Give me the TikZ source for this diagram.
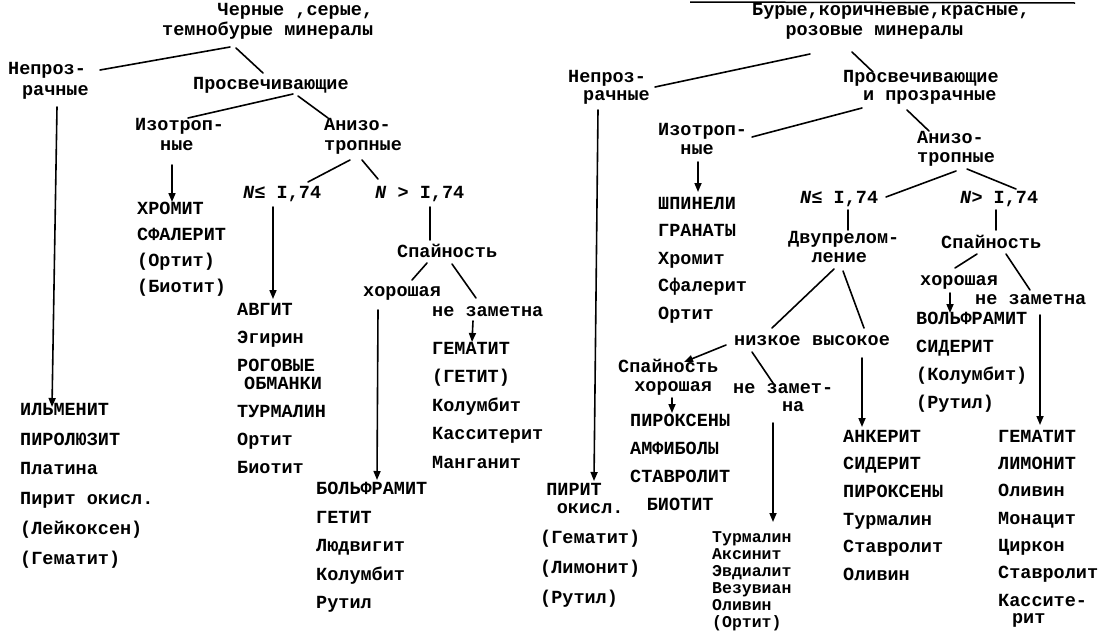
\documentclass[tikz,border=0pt]{standalone}
\usepackage{fontspec}
\setmainfont{Liberation Mono}
\usetikzlibrary{arrows.meta,calc}
\newcommand\fs[1]{\fontsize{18.5}{#1}\selectfont\bfseries\lineskiplimit=-100pt\relax}
\newcommand\fss[1]{\fontsize{16.5}{#1}\selectfont\bfseries\lineskiplimit=-100pt\relax}
\newcommand\ind[1]{\hspace*{#1\dimexpr0.6em\relax}}
\tikzset{
 lbl/.style={anchor=north west, inner sep=0pt, align=left, font=\fs{20}, execute at begin node={\rule{0pt}{16pt}}},
 lst/.style={lbl, font=\fs{#1}},
 conn/.style={line width=1.6pt, line cap=round},
 arr/.style={conn, -{Triangle[length=9pt,width=7pt]}},
}
\begin{document}
\begin{tikzpicture}[x=1pt,y=-1pt]
\fill[white] (0,0) rectangle (1100,635);
\useasboundingbox (0,0) rectangle (1100,635);
% ---------- left tree ----------
\node[lbl] (rootL) at (162,3) {\ind{5}Черные ,серые,\\темнобурые минералы};
\node[lbl,font=\fs{21}] (nL) at (8,62) {Непроз-\\\ind{1.25}рачные};
\node[lbl] (prL) at (193,73) {Просвечивающие};
\node[lbl] (izL) at (135,118) {Изотроп-\\\ind{2.25}ные};
\node[lbl] (anL) at (324,118) {Анизо-\\тропные};
\node[lbl] (leL) at (243,182) {\textit{N}≤ I,74};
\node[lbl] (gtL) at (375,182) {\textit{N} > I,74};
\node[lst=26] (hromL) at (137,202) {ХРОМИТ\\СФАЛЕРИТ\\(Ортит)\\(Биотит)};
\node[lst=28] (avgL) at (237,303) {АВГИТ\\Эгирин\\РОГОВЫЕ\\[-10pt]\hspace*{7pt}ОБМАНКИ\\ТУРМАЛИН\\Ортит\\Биотит};
\node[lbl] (spL) at (397,241) {Спайность};
\node[lbl] (hoL) at (363,280) {хорошая};
\node[lbl] (nzL) at (432,300) {не заметна};
\node[lst=28.5] (gemL) at (432,342) {ГЕМАТИТ\\(ГЕТИТ)\\Колумбит\\Касситерит\\Манганит};
\node[lst=28.5] (volL) at (316,482) {БОЛЬФРАМИТ\\ГЕТИТ\\Людвигит\\Колумбит\\Рутил};
\node[lst=29.8] (ilmL) at (20,403) {ИЛЬМЕНИТ\\ПИРОЛЮЗИТ\\Платина\\Пирит окисл.\\(Лейкоксен)\\(Гематит)};
% ---------- right tree ----------
\node[lbl] (rootR) at (752,3) {Бурые,коричневые,красные,\\\ind{3}розовые минералы};
\node[lbl,font=\fs{18}] (nR) at (568,70) {Непроз-\\\ind{1.35}рачные};
\node[lbl,font=\fs{18}] (prR) at (843,70) {Просвечивающие\\\ind{1.8}и прозрачные};
\node[lbl,font=\fs{19}] (izR) at (658,123) {Изотроп-\\\ind{2}ные};
\node[lbl,font=\fs{19}] (anR) at (917,131) {Анизо-\\тропные};
\node[lbl] (leR) at (800,187) {\textit{N}≤ I,74};
\node[lbl] (gtR) at (960,187) {\textit{N}> I,74};
\node[lst=27.5] (shpR) at (658,197) {ШПИНЕЛИ\\ГРАНАТЫ\\Хромит\\Сфалерит\\Ортит};
\node[lbl,font=\fs{19}] (dvR) at (788,231) {Двупрелом-\\\ind{2.1}ление};
\node[lbl] (spR) at (941,232) {Спайность};
\node[lbl] (hoR) at (920,269) {хорошая};
\node[lbl] (nzR) at (975,288) {не заметна};
\node[lst=28] (volR) at (916,312) {ВОЛЬФРАМИТ\\СИДЕРИТ\\(Колумбит)\\(Рутил)};
\node[lbl] (nizR) at (734,329) {низкое};
\node[lbl] (vysR) at (812,329) {высокое};
\node[lbl,font=\fs{19}] (spH) at (618,359) {Спайность\\\ind{1.45}хорошая};
\node[lbl,font=\fs{18.5}] (nzH) at (733,383) {не замет-\\\ind{4.4}на};
\node[lst=28] (pirR) at (630,414) {ПИРОКСЕНЫ\\АМФИБОЛЫ\\СТАВРОЛИТ\\\ind{1.5}БИОТИТ};
\node[lst=30] (piritR) at (540,483) {\ind{0.55}ПИРИТ\\[-12pt]\ind{1.5}окисл.\\(Гематит)\\(Лимонит)\\(Рутил)};
\node[lbl,font=\fss{17}] (turR) at (712,531) {Турмалин\\Аксинит\\Эвдиалит\\Везувиан\\Оливин\\(Ортит)};
\node[lst=27.6] (ankR) at (843,430) {АНКЕРИТ\\СИДЕРИТ\\ПИРОКСЕНЫ\\Турмалин\\Ставролит\\Оливин};
\node[lst=27.3] (gemR) at (998,430) {ГЕМАТИТ\\ЛИМОНИТ\\Оливин\\Монацит\\Циркон\\Ставролит\\Кассите-\\[-10pt]\ind{1.25}рит};
% top rule (cut-off line of the page above)
\draw[line width=1.5pt] (690,2) -- (1075,3);
% ---------- left connectors ----------
\draw[conn] ($(rootL.north west)+(68,44)$) -- ($(nL.north west)+(92,8)$);
\draw[conn] ($(rootL.north west)+(74,45)$) -- ($(prL.north west)+(70,0)$);
\draw[conn] ($(prL.north west)+(100,21)$) -- ($(izL.north west)+(53,0)$);
\draw[conn] ($(prL.north west)+(105,23)$) -- ($(anL.north west)+(4,0)$);
\draw[conn] ($(anL.north west)+(26,42)$) -- ($(leL.north west)+(65,0)$);
\draw[conn] ($(anL.north west)+(38,42)$) -- ($(gtL.north west)+(3,-3)$);
\draw[arr] ($(nL.north west)+(49,45)$) -- ($(ilmL.north west)+(32,4)$);
\draw[arr] ($(izL.north west)+(37,47)$) -- ($(hromL.north west)+(35,0)$);
\draw[arr] ($(leL.north west)+(30,25)$) -- ($(avgL.north west)+(36,-4)$);
\draw[conn] ($(gtL.north west)+(55,25)$) -- ($(spL.north west)+(33,-1)$);
\draw[conn] ($(spL.north west)+(30,22)$) -- ($(hoL.north west)+(49,0)$);
\draw[conn] ($(spL.north west)+(55,23)$) -- ($(nzL.north west)+(44,-2)$);
\draw[arr] ($(hoL.north west)+(15,30)$) -- ($(volL.north west)+(61,-2)$);
\draw[arr] ($(nzL.north west)+(41,21)$) -- ($(gemL.north west)+(40,0)$);
% ---------- right connectors ----------
\draw[conn] ($(rootR.north west)+(58,51)$) -- ($(nR.north west)+(87,17)$);
\draw[conn] ($(rootR.north west)+(100,49)$) -- ($(prR.north west)+(30,2)$);
\draw[conn] ($(prR.north west)+(19,38)$) -- ($(izR.north west)+(94,14)$);
\draw[conn] ($(prR.north west)+(64,40)$) -- ($(anR.north west)+(12,0)$);
\draw[conn] ($(anR.north west)+(39,40)$) -- ($(leR.north west)+(86,10)$);
\draw[conn] ($(anR.north west)+(50,38)$) -- ($(gtR.north west)+(56,2)$);
\draw[conn] ($(leR.north west)+(48,23)$) -- ($(dvR.north west)+(60,-1)$);
\draw[conn] ($(gtR.north west)+(36,23)$) -- ($(spR.north west)+(55,-2)$);
\draw[conn] ($(spR.north west)+(36,22)$) -- ($(hoR.north west)+(35,-1)$);
\draw[conn] ($(spR.north west)+(65,22)$) -- ($(nzR.north west)+(55,2)$);
\draw[arr] ($(hoR.north west)+(30,24)$) -- ($(volR.north west)+(34,1)$);
\draw[arr] ($(nzR.north west)+(65,27)$) -- ($(gemR.north west)+(42,-5)$);
\draw[conn] ($(dvR.north west)+(46,38)$) -- ($(nizR.north west)+(38,-1)$);
\draw[conn] ($(dvR.north west)+(55,40)$) -- ($(vysR.north west)+(52,-1)$);
\draw[arr] ($(nizR.north west)+(-8,16)$) -- ($(spH.north west)+(66,3)$);
\draw[conn] ($(nizR.north west)+(18,23)$) -- ($(nzH.north west)+(42,3)$);
\draw[arr] ($(spH.north west)+(54,39)$) -- ($(pirR.north west)+(42,-1)$);
\draw[arr] ($(nzH.north west)+(40,40)$) -- ($(turR.north west)+(61,-9)$);
\draw[arr] ($(vysR.north west)+(50,29)$) -- ($(ankR.north west)+(19,-3)$);
\draw[arr] ($(izR.north west)+(40,39)$) -- ($(shpR.north west)+(40,-5)$);
\draw[arr] ($(nR.north west)+(30,40)$) -- ($(piritR.north west)+(54,-2)$);
\end{tikzpicture}
\end{document}
